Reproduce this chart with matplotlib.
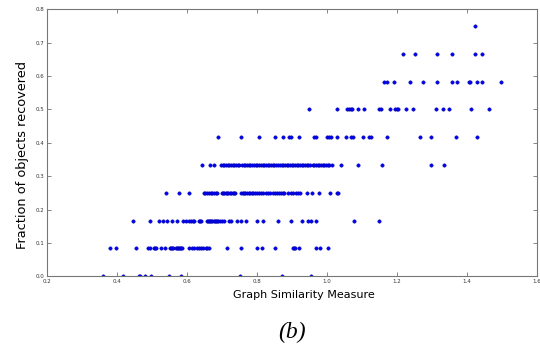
import matplotlib
matplotlib.use("Agg")
import matplotlib.pyplot as plt

# x values (graph similarity) grouped by recovered fraction k/12
lvl0 = [0.359, 0.417, 0.464, 0.467, 0.481, 0.497, 0.549, 0.582, 0.751, 0.872, 0.954]
lvl1 = [0.381, 0.397, 0.455, 0.49, 0.493, 0.505, 0.508, 0.511, 0.525, 0.537, 0.552,
        0.555, 0.558, 0.561, 0.568, 0.571, 0.574, 0.577, 0.58, 0.583, 0.586, 0.607,
        0.613, 0.619, 0.629, 0.635, 0.641, 0.647, 0.653, 0.658, 0.664, 0.713, 0.754,
        0.799, 0.815, 0.852, 0.902, 0.905, 0.908, 0.921, 0.969, 0.981, 1.002]
lvl2 = [0.445, 0.495, 0.521, 0.531, 0.544, 0.556, 0.571, 0.589, 0.596, 0.605, 0.612,
        0.617, 0.621, 0.635, 0.637, 0.641, 0.656, 0.661, 0.664, 0.667, 0.669, 0.672,
        0.676, 0.679, 0.682, 0.685, 0.689, 0.693, 0.699, 0.706, 0.721, 0.726, 0.743,
        0.755, 0.768, 0.8, 0.818, 0.859, 0.896, 0.928, 0.947, 0.955, 0.969, 1.077, 1.149]
lvl3 = [0.539, 0.576, 0.606, 0.649, 0.652, 0.656, 0.664, 0.668, 0.672, 0.677, 0.682,
        0.687, 0.699, 0.703, 0.707, 0.711, 0.714, 0.718, 0.723, 0.727, 0.731, 0.734,
        0.738, 0.755, 0.759, 0.763, 0.767, 0.771, 0.776, 0.78, 0.785, 0.789, 0.795,
        0.801, 0.807, 0.812, 0.818, 0.826, 0.832, 0.837, 0.847, 0.852, 0.858, 0.864,
        0.869, 0.873, 0.878, 0.889, 0.897, 0.904, 0.911, 0.918, 0.923, 0.942, 0.956,
        0.978, 1.009, 1.029, 1.032]
lvl4 = [0.644, 0.665, 0.676, 0.697, 0.702, 0.707, 0.711, 0.716, 0.721, 0.726, 0.731,
        0.735, 0.74, 0.745, 0.749, 0.757, 0.762, 0.767, 0.771, 0.776, 0.781, 0.786,
        0.791, 0.796, 0.801, 0.806, 0.811, 0.816, 0.821, 0.826, 0.831, 0.835, 0.84,
        0.845, 0.849, 0.854, 0.86, 0.866, 0.871, 0.875, 0.88, 0.885, 0.889, 0.894,
        0.899, 0.904, 0.909, 0.913, 0.918, 0.923, 0.928, 0.932, 0.937, 0.942, 0.947,
        0.951, 0.959, 0.964, 0.969, 0.973, 0.978, 0.983, 0.988, 0.992, 0.997, 1.002,
        1.007, 1.013, 1.04, 1.089, 1.158, 1.296, 1.333]
lvl5 = [0.688, 0.755, 0.807, 0.851, 0.875, 0.892, 0.896, 0.919, 0.964, 0.968, 1.001,
        1.007, 1.011, 1.028, 1.054, 1.07, 1.073, 1.102, 1.121, 1.126, 1.171, 1.265,
        1.298, 1.368, 1.43]
lvl6 = [0.948, 1.029, 1.058, 1.063, 1.068, 1.071, 1.089, 1.107, 1.148, 1.154, 1.18,
        1.194, 1.199, 1.204, 1.226, 1.245, 1.312, 1.332, 1.349, 1.411, 1.463]
lvl7 = [1.163, 1.172, 1.191, 1.238, 1.275, 1.314, 1.356, 1.372, 1.407, 1.41, 1.429,
        1.443, 1.498]
lvl8 = [1.218, 1.251, 1.314, 1.356, 1.424, 1.443]
lvl9 = [1.424]

levels = [lvl0, lvl1, lvl2, lvl3, lvl4, lvl5, lvl6, lvl7, lvl8, lvl9]

xs = []
ys = []
for k, row in enumerate(levels):
    for v in row:
        xs.append(v)
        ys.append(k / 12.0)

W, H = 540.0, 347.0
fig = plt.figure(figsize=(5.4, 3.47), dpi=100)
ax = fig.add_axes([47 / W, 1 - 276.3 / H, 490 / W, 267 / H])
ax.plot(xs, ys, "o", color="blue", markeredgecolor="#0000aa",
        markersize=2.4, markeredgewidth=0.4)

ax.set_xlim(0.2, 1.6)
ax.set_ylim(0.0, 0.8)
ax.set_xticks([0.2, 0.4, 0.6, 0.8, 1.0, 1.2, 1.4, 1.6])
ax.set_yticks([0.0, 0.1, 0.2, 0.3, 0.4, 0.5, 0.6, 0.7, 0.8])
ax.tick_params(direction="in", top=True, right=True, labelsize=4,
               length=3, width=0.5, color="#555555", labelcolor="#333333", pad=2)
for s in ax.spines.values():
    s.set_color("#777777")
    s.set_linewidth(0.8)

# axis titles placed where they sit in the original figure
fig.text(303.5 / W, 1 - 298.3 / H, "Graph Similarity Measure", fontsize=8,
         ha="center", va="baseline")
fig.text(22.5 / W, 1 - 155 / H, "Fraction of objects recovered", fontsize=9.3,
         rotation=90, ha="center", va="center")

fig.text(292 / W, 1 - 332 / H, "(b)", fontsize=17, family="Liberation Serif",
         style="italic", ha="center", va="center")

fig.savefig("out.png", dpi=100)
